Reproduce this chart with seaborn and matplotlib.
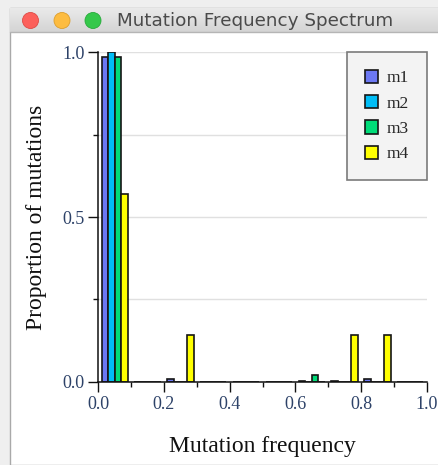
import numpy as np
import pandas
import matplotlib
import matplotlib.pyplot as plt
import seaborn as sns
from matplotlib.patches import Rectangle, Circle
from matplotlib.ticker import MultipleLocator, FormatStrFormatter

# centres of the 0.1 wide frequency bins
bins = [0.05, 0.15, 0.25, 0.35, 0.45, 0.55, 0.65, 0.75, 0.85, 0.95]
mutations = ["m1", "m2", "m3", "m4"]
m1 = [0.986, 0.0, 0.008, 0.0, 0.0, 0.0, 0.003, 0.003, 0.008, 0.0]
m2 = [1.0, 0.0, 0.0, 0.0, 0.0, 0.0, 0.0, 0.0, 0.0, 0.0]
m3 = [0.986, 0.0, 0.0, 0.0, 0.0, 0.0, 0.02, 0.0, 0.0, 0.0]
m4 = [0.571, 0.0, 0.143, 0.0, 0.0, 0.0, 0.0, 0.143, 0.143, 0.0]
colors = ["#6c78f3", "#00bdf6", "#00dc78", "#ffff00"]
x_ticks = [0.0, 0.2, 0.4, 0.6, 0.8, 1.0]
y_ticks = [0.0, 0.5, 1.0]
window_title = "Mutation Frequency Spectrum"

rows = []
for name, vals in zip(mutations, [m1, m2, m3, m4]):
    for b, v in zip(bins, vals):
        rows.append((b, name, v))
df = pandas.DataFrame(rows, columns=["freq", "mutation", "proportion"])

sns.set_style("white")
plt.rcParams["font.family"] = ["Liberation Serif", "DejaVu Serif"]

W, H = 439, 465
fig = plt.figure(figsize=(W / 100, H / 100), dpi=100)
fig.patch.set_facecolor("#efefef")

# mac style window: body, title bar, traffic lights
fig.patches.append(Rectangle((10 / W, 0), 1, 1 - 8 / H, transform=fig.transFigure,
                             facecolor="white", edgecolor="#a9a9a9", linewidth=1, zorder=-3))
bar = fig.add_axes([10.5 / W, 1 - 32 / H, 1 - 10.5 / W, 24 / H], zorder=-2)
grad = np.linspace(0, 1, 50).reshape(-1, 1)
bar.imshow(grad, aspect="auto", cmap=matplotlib.colors.LinearSegmentedColormap.from_list(
    "tb", ["#eaeaea", "#d4d4d4"]), extent=[0, 1, 0, 1])
bar.axis("off")
fig.lines.append(matplotlib.lines.Line2D([10 / W, 1], [1 - 32.5 / H, 1 - 32.5 / H],
                                         transform=fig.transFigure, color="#b5b5b5", linewidth=1))
for cx, c, ec in [(30.5, "#fc605b", "#de4a45"), (62, "#fdbc40", "#dd9e2c"), (93, "#34c84a", "#27aa3a")]:
    fig.patches.append(Circle((cx / 100, (H - 20.5) / 100), 0.08, transform=fig.dpi_scale_trans,
                              facecolor=c, edgecolor=ec, linewidth=0.6, zorder=3))
fig.text(117 / W, 1 - 21 / H, window_title, family="DejaVu Sans", fontsize=13.2,
         color="#4a4a4a", va="center", ha="left")

ax = fig.add_axes([98.3 / W, 1 - 381.7 / H, (426.7 - 98.3) / W, (381.7 - 52.3) / H])
sns.barplot(data=df, x="freq", y="proportion", hue="mutation", palette=colors,
            native_scale=True, width=0.8, saturation=1, edgecolor="#151515", linewidth=1.2,
            legend=False, ax=ax)
ax.set_xlim(0, 1)
ax.set_ylim(0, 1)
sns.despine(ax=ax)
for s in ["left", "bottom"]:
    ax.spines[s].set_color("#111111")
    ax.spines[s].set_linewidth(1.1)

ax.set_xticks(x_ticks)
ax.set_yticks(y_ticks)
ax.xaxis.set_minor_locator(MultipleLocator(0.1))
ax.yaxis.set_minor_locator(MultipleLocator(0.25))
ax.xaxis.set_major_formatter(FormatStrFormatter("%.1f"))
ax.yaxis.set_major_formatter(FormatStrFormatter("%.1f"))
ax.tick_params(which="major", length=7, width=1, color="#111111", labelsize=13,
               labelcolor="#2d4268", pad=3, bottom=True, left=True)
ax.tick_params(which="minor", length=3.5, width=1, color="#111111", bottom=True, left=True)
ax.yaxis.grid(True, which="both", color="#e0e0e0", linewidth=1)
ax.set_axisbelow(True)

ax.set_xlabel("Mutation frequency", fontsize=17, color="#111111", labelpad=17)
ax.set_ylabel("Proportion of mutations", fontsize=17, color="#111111", labelpad=11)

handles = [Rectangle((0, 0), 1, 1, facecolor=c, edgecolor="#151515", linewidth=1.2) for c in colors]
leg = ax.legend(handles, mutations, loc="upper right", borderaxespad=0, fontsize=12.5,
                frameon=True, fancybox=False, handlelength=0.8, handleheight=0.8,
                handletextpad=0.5, labelspacing=0.5, borderpad=1.0)
leg.get_frame().set_facecolor("#f3f3f3")
leg.get_frame().set_edgecolor("#7a7a7a")
leg.get_frame().set_linewidth(1.2)
leg.get_frame().set_alpha(1)

plt.savefig("out.png", dpi=100)
